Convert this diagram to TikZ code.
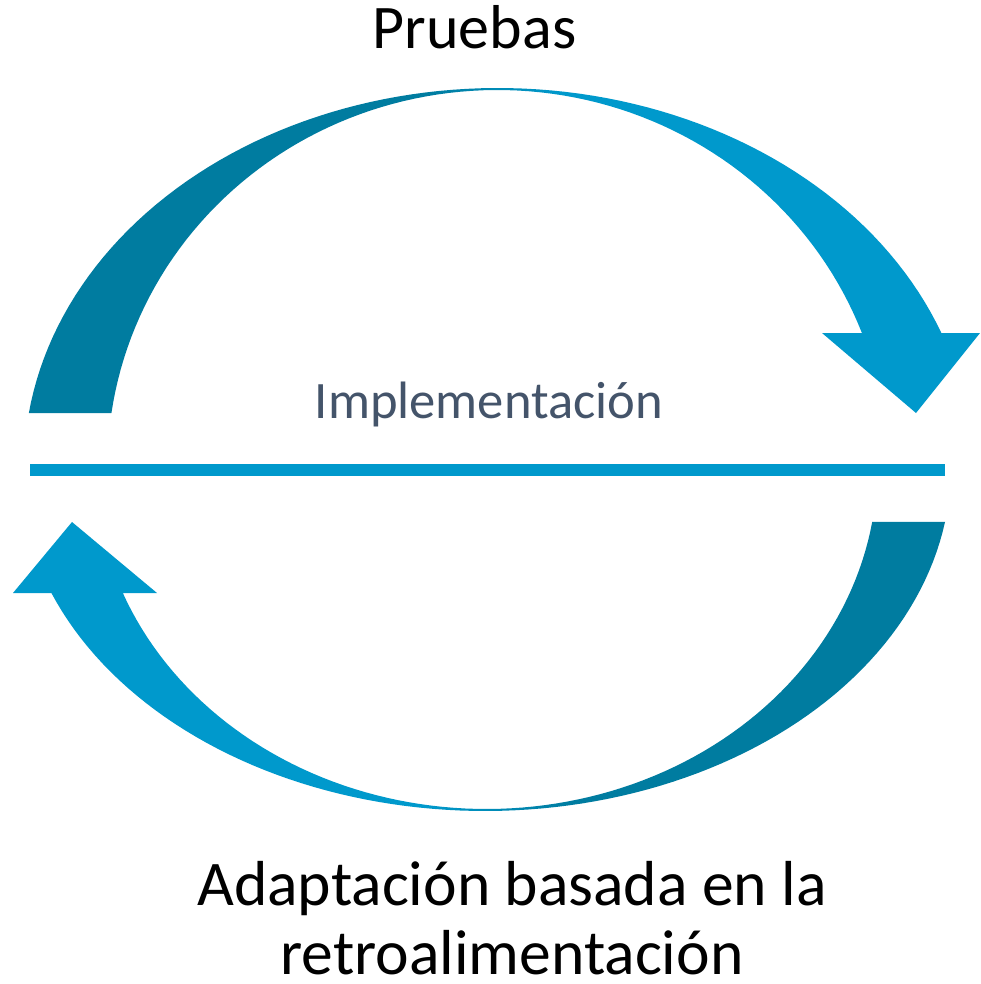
\documentclass[tikz,border=0pt]{standalone}
\usepackage{fontspec}
\setmainfont{Carlito}
\definecolor{darkb}{RGB}{0,124,160}
\definecolor{lightb}{RGB}{0,153,204}
\definecolor{slate}{RGB}{68,84,106}
\pgfdeclarehorizontalshading{topgrad}{100bp}{color(0bp)=(darkb); color(46bp)=(darkb); color(53bp)=(lightb); color(100bp)=(lightb)}
\pgfdeclarehorizontalshading{botgrad}{100bp}{color(0bp)=(lightb); color(47bp)=(lightb); color(55bp)=(darkb); color(100bp)=(darkb)}
\tikzset{
  lbl/.style={anchor=base, inner sep=0pt, text=black},
}
\begin{document}
\begin{tikzpicture}[x=0.5pt, y=-0.5pt]
\useasboundingbox (0,0) rectangle (980,984);
\fill[white] (0,0) rectangle (980,984);
% top arrow (Pruebas)
\shade[shading=topgrad]
  plot[domain=188.19:339.3, samples=90] ({498+474*cos(\x)},{467+379*sin(\x)})
  -- (980,333) -- (916,413) -- (822,333) -- (862,333)
  -- plot[domain=339.18:188.23, samples=90] ({497.4+390*cos(\x)},{467+377*sin(\x)})
  -- cycle;
% bottom arrow (feedback)
\shade[shading=botgrad]
  plot[domain=9.2:158.51, samples=90] ({485+466*cos(\x)},{467+344*sin(\x)})
  -- (13,593) -- (72,522) -- (157,593) -- (123,593)
  -- plot[domain=158.38:9.25, samples=90] ({486.3+391*cos(\x)},{467+342*sin(\x)})
  -- cycle;
% middle line
\coordinate (la) at (30,470);
\coordinate (lb) at (945,470);
\draw[lightb, line width=6pt] (la) -- (lb);
% texts
\node[lbl, font=\fontsize{31}{37}\selectfont] (pruebas) at (474.5,49) {Pruebas};
\node[lbl, text=slate, font=\fontsize{26.3}{32}\selectfont] (impl) at (489,418) {Implementación};
\node[lbl, font=\fontsize{31.8}{38}\selectfont] (adapt1) at (512,905) {Adaptación basada en la};
\node[lbl, text depth=0pt, font=\fontsize{31.8}{38}\selectfont] (adapt2) at (512,974) {retroalimentación};
\end{tikzpicture}
\end{document}
